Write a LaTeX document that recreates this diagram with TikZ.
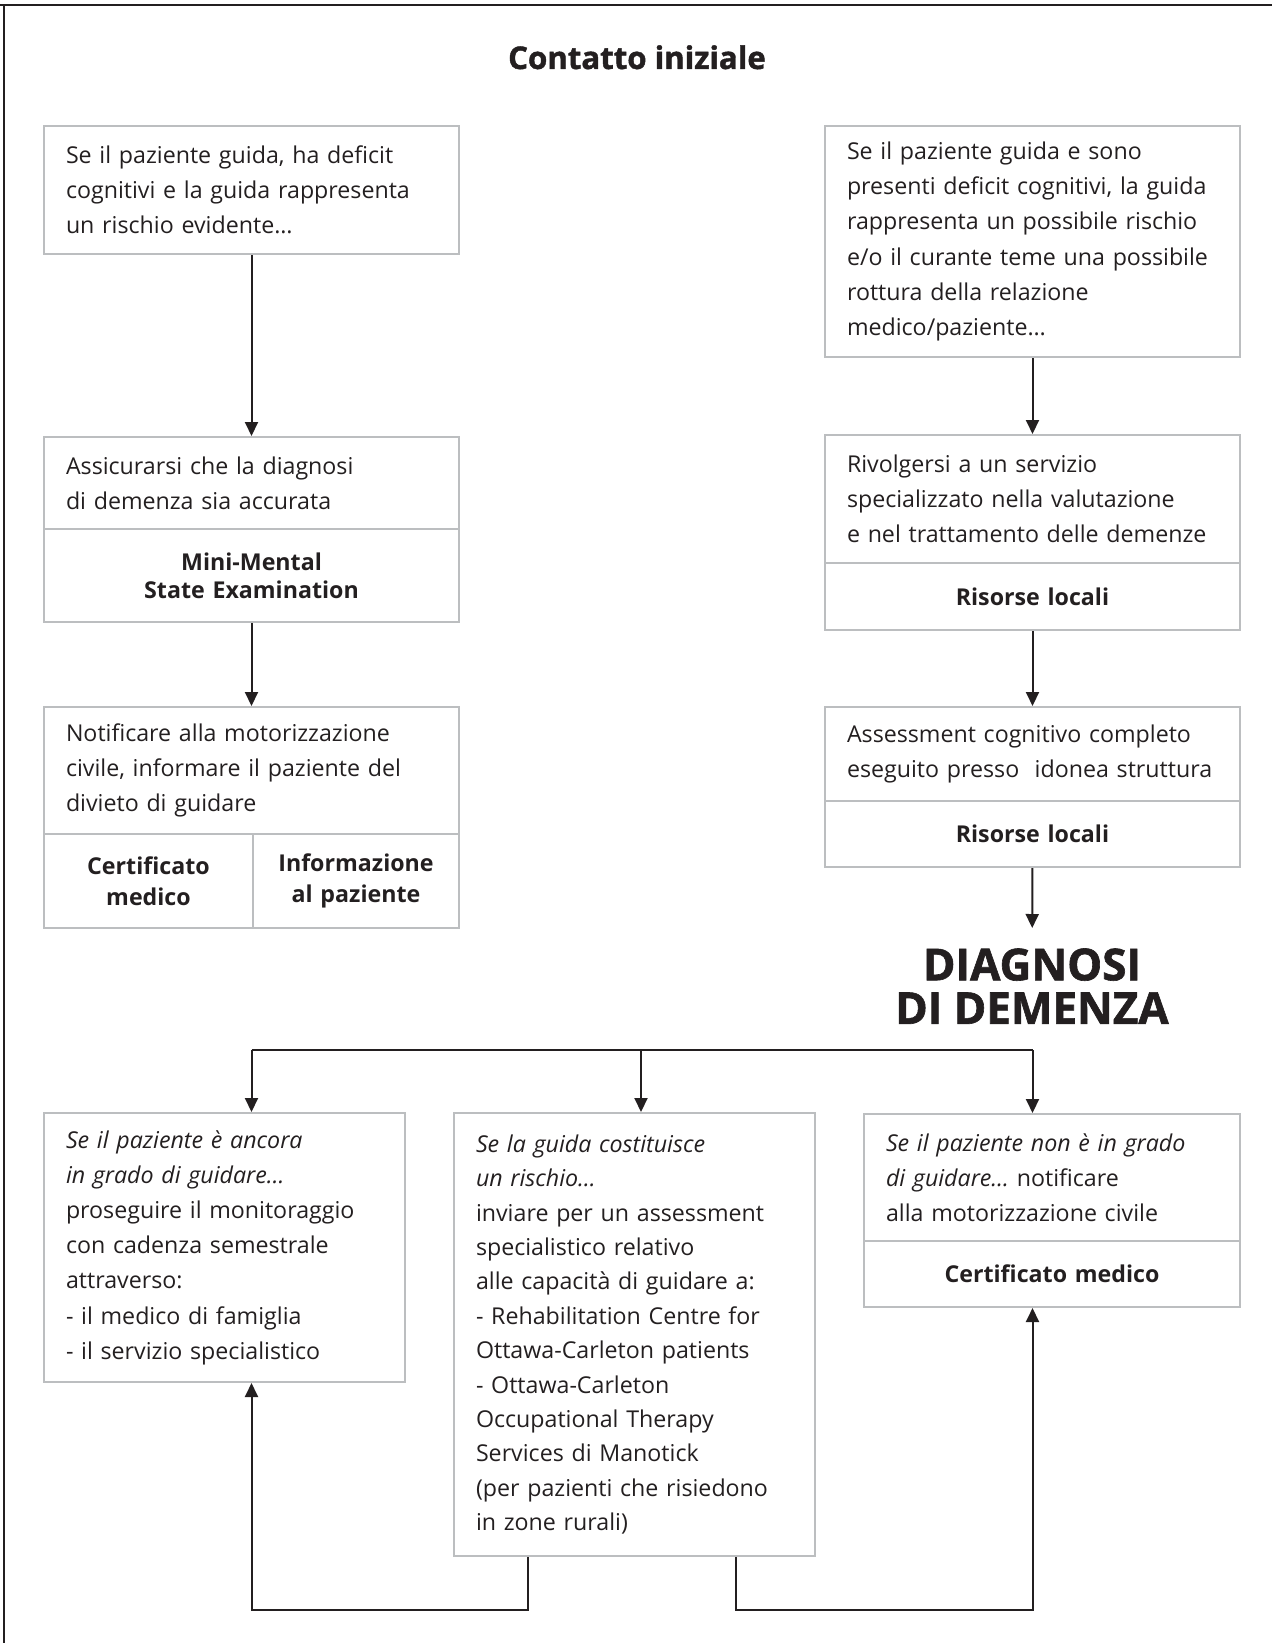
\documentclass[tikz,border=0pt]{standalone}
\usepackage{fontspec}
\setmainfont{Open Sans}
\newfontfamily\heavyfont{Open Sans}[FakeBold=1.4]
\usetikzlibrary{arrows.meta}
\definecolor{boxgray}{HTML}{BCBEC0}
\definecolor{ink}{HTML}{231F20}

\begin{document}
\begin{tikzpicture}[x=0.5pt,y=-0.5pt,
    every node/.style={text=ink},
    cell/.style={draw=boxgray, line width=1pt, anchor=north west, inner xsep=11pt,
      inner ysep=0pt, align=left, font=\fontsize{11.6}{17.6}\selectfont},
    tag/.style={cell, align=center, inner xsep=2pt, font=\fontsize{11.6}{15.5}\selectfont\bfseries},
    link/.style={draw=ink, line width=1pt},
    arr/.style={link, -{Triangle[length=7pt,width=6.5pt]}}]
  \useasboundingbox (0,0) rectangle (1272,1643);

  % frame
  \draw[ink, line width=1.2pt] (0,5) -- (1272,5);
  \draw[ink, line width=1pt] (4,5) -- (4,1643);

  \node[font=\fontsize{15.6}{16}\heavyfont\bfseries, anchor=base] (title) at (637,69) {Contatto iniziale};

  % left column
  \node[cell, text width=185.5pt, minimum height=64pt] (a1) at (43,125)
    {Se il paziente guida, ha deficit\\cognitivi e la guida rappresenta\\un rischio evidente…};
  \node[cell, text width=185.5pt, minimum height=46pt] (a2) at (43,436)
    {Assicurarsi che la diagnosi\\di demenza sia accurata};
  \node[tag, text width=203.5pt, minimum height=46.5pt, font=\fontsize{11.6}{14.2}\selectfont\bfseries] (a2b) at (43,528)
    {Mini-Mental\\State Examination};
  \node[cell, text width=185.5pt, minimum height=63.5pt] (a3) at (43,706)
    {Notificare alla motorizzazione\\civile, informare il paziente del\\divieto di guidare};
  \node[tag, text width=100.5pt, minimum height=47pt] (a3l) at (43,833)
    {Certificato\\medico};
  \node[tag, text width=99pt, minimum height=47pt] (a3r) at (252,833)
    {Informazione\\al paziente};

  % right column
  \node[cell, text width=185.5pt, minimum height=115.5pt] (b1) at (824,125)
    {Se il paziente guida e sono\\presenti deficit cognitivi, la guida\\rappresenta un possibile rischio\\e/o il curante teme una possibile\\rottura della relazione\\medico/paziente…};
  \node[cell, text width=185.5pt, minimum height=64pt] (b2) at (824,434)
    {Rivolgersi a un servizio\\specializzato nella valutazione\\e nel trattamento delle demenze};
  \node[tag, text width=203.5pt, minimum height=33.5pt] (b2b) at (824,562)
    {Risorse locali};
  \node[cell, text width=185.5pt, minimum height=47pt] (b3) at (824,706)
    {Assessment cognitivo completo\\eseguito presso\ \ idonea struttura};
  \node[tag, text width=203.5pt, minimum height=33pt] (b3b) at (824,800)
    {Risorse locali};

  \node[font=\fontsize{22}{21.8}\heavyfont\bfseries, align=center, anchor=north,
    inner xsep=0pt, inner ysep=10pt] (diag) at (1032,928) {DIAGNOSI\\DI DEMENZA};

  % bottom row
  \node[cell, text width=158.5pt, minimum height=134.5pt] (c1) at (43,1112)
    {\textit{Se il paziente è ancora}\\\textit{in grado di guidare…}\\proseguire il monitoraggio\\con cadenza semestrale\\attraverso:\\- il medico di famiglia\\- il servizio specialistico};
  \node[cell, text width=158.5pt, minimum height=221.5pt, font=\fontsize{11.6}{17.2}\selectfont] (c2) at (453,1112)
    {\textit{Se la guida costituisce}\\\textit{un rischio…}\\inviare per un assessment\\specialistico relativo\\alle capacità di guidare a:\\- Rehabilitation Centre for\\Ottawa-Carleton patients\\- Ottawa-Carleton\\Occupational Therapy\\Services di Manotick\\(per pazienti che risiedono\\in zone rurali)};
  \node[cell, text width=166pt, minimum height=63.5pt] (c3) at (863,1113)
    {\textit{Se il paziente non è in grado}\\\textit{di guidare…} notificare\\alla motorizzazione civile};
  \node[tag, text width=184pt, minimum height=33pt] (c3b) at (863,1240)
    {Certificato medico};

  \coordinate (fork) at (641,1050);
  \coordinate (loopL) at (528,1610);
  \coordinate (loopR) at (736,1610);

  % connectors
  \draw[arr] (a1) -- (a2);
  \draw[arr] (a2b) -- (a3);
  \draw[arr] (b1) -- (b2);
  \draw[arr] (b2b) -- (b3);
  \draw[arr] (b3b) -- (diag);
  \draw[link] (fork -| a1.south) -- (fork -| b3b.south);
  \draw[arr] (fork -| a1.south) -- (c1.north -| a1.south);
  \draw[arr] (fork) -- (c2.north -| fork);
  \draw[arr] (fork -| b3b.south) -- (c3.north -| b3b.south);
  \draw[arr] (c2.south -| loopL) -- (loopL) -| (c1.south -| a1.south);
  \draw[arr] (c2.south -| loopR) -- (loopR) -| (c3b.south -| b3b.south);
\end{tikzpicture}
\end{document}
